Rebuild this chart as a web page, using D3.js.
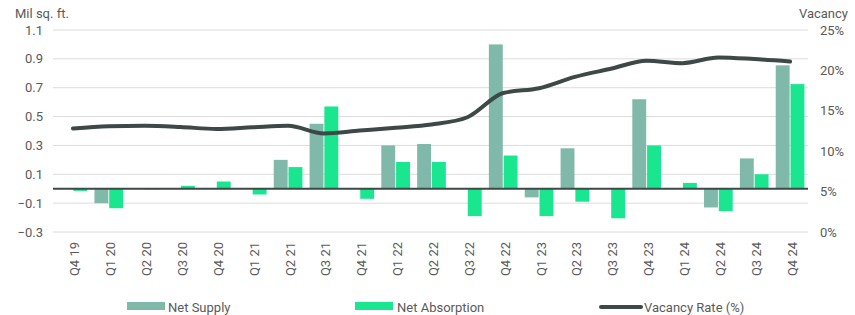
<!DOCTYPE html>
<html>
<head>
<meta charset="utf-8">
<script src="https://cdn.jsdelivr.net/npm/d3@7"></script>
<style>
  body { margin: 0; background: #fff; }
  svg { display: block; }
</style>
</head>
<body>
<svg id="chart"></svg>
<script>
const categories = ["Q4 19","Q1 20","Q2 20","Q3 20","Q4 20","Q1 21","Q2 21","Q3 21","Q4 21","Q1 22","Q2 22","Q3 22","Q4 22","Q1 23","Q2 23","Q3 23","Q4 23","Q1 24","Q2 24","Q3 24","Q4 24"];
const netSupply = [0, -0.10, 0, 0, 0, 0, 0.20, 0.45, 0, 0.30, 0.31, 0, 1.00, -0.06, 0.28, 0, 0.62, 0, -0.13, 0.21, 0.855];
const netAbsorption = [-0.015, -0.135, -0.005, 0.02, 0.05, -0.04, 0.15, 0.57, -0.07, 0.185, 0.185, -0.19, 0.23, -0.19, -0.09, -0.205, 0.30, 0.04, -0.155, 0.10, 0.725];
const vacancy = [12.8, 13.1, 13.15, 13.0, 12.75, 12.95, 13.15, 12.2, 12.55, 12.9, 13.3, 14.2, 17.2, 17.8, 19.2, 20.2, 21.2, 20.9, 21.6, 21.4, 21.1];
const leftTicks = [-0.3, -0.1, 0.1, 0.3, 0.5, 0.7, 0.9, 1.1];
const rightTicks = [0, 5, 10, 15, 20, 25];
const seriesNames = ["Net Supply", "Net Absorption", "Vacancy Rate (%)"];

const width = 855, height = 315;
const colSupply = "#80b9aa", colAbs = "#1ae68f", colLine = "#3d4947", textCol = "#5a5a5a";
const font = "Roboto, sans-serif";

const svg = d3.select("#chart")
	.attr("width", width)
	.attr("height", height)
	.attr("font-family", font)
	.attr("font-size", 13);

const x = d3.scaleBand()
	.domain(categories)
	.range([55, 808])
	.paddingInner(0.2)
	.paddingOuter(0.1);

const xSub = d3.scaleBand()
	.domain(["supply", "absorption"])
	.range([0, x.bandwidth()])
	.paddingInner(0.06);

const y = d3.scaleLinear().domain([-0.3, 1.1]).range([232, 30]);
const yR = d3.scaleLinear().domain([0, 25]).range([232, 30]);

// grid
svg.append("g")
	.selectAll("line")
	.data(leftTicks)
	.enter().append("line")
		.attr("x1", 53).attr("x2", 808)
		.attr("y1", d => y(d)).attr("y2", d => y(d))
		.attr("stroke", "#dcdcdc")
		.attr("stroke-width", 1);

// left axis labels
svg.append("g")
	.selectAll("text")
	.data(leftTicks)
	.enter().append("text")
		.attr("x", 43)
		.attr("y", d => y(d))
		.attr("dy", "0.35em")
		.attr("text-anchor", "end")
		.attr("fill", textCol)
		.text(d => d3.format(".1f")(d));

// right axis labels
svg.append("g")
	.selectAll("text")
	.data(rightTicks)
	.enter().append("text")
		.attr("x", 820)
		.attr("y", d => yR(d))
		.attr("dy", "0.35em")
		.attr("fill", textCol)
		.text(d => d + "%");

svg.append("text")
	.attr("x", 15).attr("y", 18)
	.attr("fill", textCol)
	.text("Mil sq. ft.");

svg.append("text")
	.attr("x", 848).attr("y", 18)
	.attr("text-anchor", "end")
	.attr("fill", textCol)
	.text("Vacancy");

// bars
const bars = svg.append("g");
bars.selectAll(".supply")
	.data(netSupply)
	.enter().append("rect")
		.attr("class", "supply")
		.attr("x", (d, i) => x(categories[i]) + xSub("supply"))
		.attr("width", xSub.bandwidth())
		.attr("y", d => y(Math.max(0, d)))
		.attr("height", d => Math.abs(y(d) - y(0)))
		.attr("fill", colSupply);

bars.selectAll(".absorption")
	.data(netAbsorption)
	.enter().append("rect")
		.attr("class", "absorption")
		.attr("x", (d, i) => x(categories[i]) + xSub("absorption"))
		.attr("width", xSub.bandwidth())
		.attr("y", d => y(Math.max(0, d)))
		.attr("height", d => Math.abs(y(d) - y(0)))
		.attr("fill", colAbs);

// zero line
svg.append("line")
	.attr("x1", 53).attr("x2", 808)
	.attr("y1", y(0)).attr("y2", y(0))
	.attr("stroke", colLine)
	.attr("stroke-width", 2);

// vacancy line
const line = d3.line()
	.x((d, i) => x(categories[i]) + x.bandwidth() / 2)
	.y(d => yR(d))
	.curve(d3.curveMonotoneX);

svg.append("path")
	.datum(vacancy)
	.attr("d", line)
	.attr("fill", "none")
	.attr("stroke", colLine)
	.attr("stroke-width", 4)
	.attr("stroke-linecap", "round")
	.attr("stroke-linejoin", "round");

// x labels
svg.append("g")
	.selectAll("text")
	.data(categories)
	.enter().append("text")
		.attr("transform", d => `translate(${x(d) + x.bandwidth() / 2},242) rotate(-90)`)
		.attr("dy", "0.5em")
		.attr("text-anchor", "end")
		.attr("fill", textCol)
		.text(d => d);

// legend
const legend = svg.append("g");
legend.append("rect").attr("x", 127).attr("y", 302).attr("width", 38).attr("height", 8).attr("fill", colSupply);
legend.append("rect").attr("x", 355).attr("y", 302).attr("width", 38).attr("height", 8).attr("fill", colAbs);
legend.append("line").attr("x1", 601).attr("x2", 641).attr("y1", 307).attr("y2", 307)
	.attr("stroke", colLine).attr("stroke-width", 4).attr("stroke-linecap", "round");
legend.selectAll("text")
	.data(seriesNames)
	.enter().append("text")
		.attr("x", (d, i) => [168, 397, 644][i])
		.attr("y", 307)
		.attr("dy", "0.35em")
		.attr("fill", textCol)
		.text(d => d);
</script>
</body>
</html>
